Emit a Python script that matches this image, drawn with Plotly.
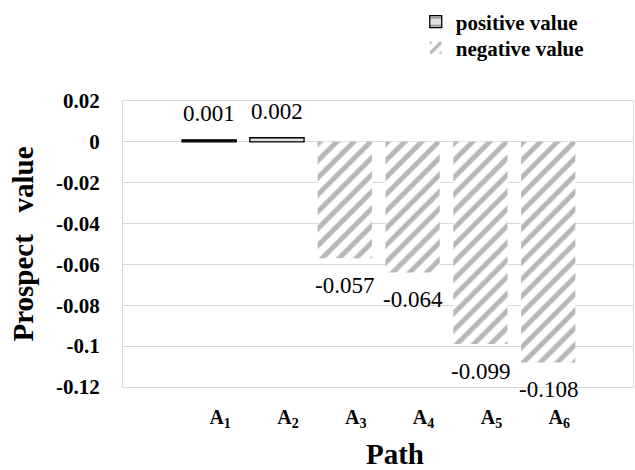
import plotly.graph_objects as go

# Prospect value of each path
paths = ["A1", "A2", "A3", "A4", "A5", "A6"]
path_labels = ["A<sub>1</sub>", "A<sub>2</sub>", "A<sub>3</sub>",
               "A<sub>4</sub>", "A<sub>5</sub>", "A<sub>6</sub>"]
prospect = [0.001, 0.002, -0.057, -0.064, -0.099, -0.108]

# Positive bars: A1 solid black, A2 outlined with a light fill
positive_fill = {"A1": "black", "A2": "#e0e0e0"}

y_ticks = [0.02, 0, -0.02, -0.04, -0.06, -0.08, -0.1, -0.12]
y_tick_text = ["0.02", "0", "-0.02", "-0.04", "-0.06", "-0.08", "-0.1", "-0.12"]

SERIF = "Times New Roman, Liberation Serif, serif"

pos = [(p, v) for p, v in zip(paths, prospect) if v > 0][::-1]
neg = [(p, v) for p, v in zip(paths, prospect) if v <= 0]

fig = go.Figure()

fig.add_bar(
    name="<b>positive value</b>",
    legend="legend",
    x=[p for p, _ in pos],
    y=[v for _, v in pos],
    width=0.8,
    marker=dict(
        color=[positive_fill[p] for p, _ in pos],
        line=dict(color="black", width=1.3),
        pattern=dict(
            shape=["-" if positive_fill[p] != "black" else "" for p, _ in pos],
            fgcolor="black",
            bgcolor=[positive_fill[p] for p, _ in pos],
            size=12,
            solidity=0.15,
        ),
    ),
)

fig.add_bar(
    name="<b>negative value</b>",
    legend="legend2",
    x=[p for p, _ in neg],
    y=[v for _, v in neg],
    width=0.8,
    marker=dict(
        color="white",
        line=dict(width=0),
        pattern=dict(shape="/", fgcolor="#6f6f6f", bgcolor="white",
                     size=12, solidity=0.42),
    ),
)

# Value labels just beyond the end of each bar
for p, v in zip(paths, prospect):
    fig.add_annotation(
        x=p, y=v, text=f"{v:.3f}", showarrow=False,
        yshift=26 if v > 0 else -27, yanchor="middle",
        font=dict(family=SERIF, size=23, color="black"),
    )

# Horizontal axis title
fig.add_annotation(
    xref="paper", yref="paper", x=0.533, y=-0.235,
    text="<b>Path</b>", showarrow=False, yanchor="middle",
    font=dict(family=SERIF, size=29, color="black"),
)

legend_style = dict(
    xanchor="left", yanchor="middle",
    font=dict(family=SERIF, size=21, color="black"),
    bgcolor="rgba(0,0,0,0)", itemwidth=30,
)

fig.update_layout(
    width=635, height=470,
    margin=dict(l=123, r=2, t=101, b=83),
    paper_bgcolor="white", plot_bgcolor="white",
    barmode="relative",
    showlegend=True,
    legend=dict(x=0.574, y=1.276, **legend_style),
    legend2=dict(x=0.574, y=1.185, **legend_style),
    font=dict(family=SERIF, color="black"),
)

fig.update_xaxes(
    type="category", categoryorder="array", categoryarray=paths,
    tickvals=paths, ticktext=[f"<b>{t}</b>" for t in path_labels],
    range=[-1.27, 6.25],
    showgrid=False, zeroline=False, ticks="",
    showline=True, linecolor="#d9d9d9", linewidth=1, mirror=True,
    tickfont=dict(family=SERIF, size=20, color="black"),
    ticklabelstandoff=12, ticklabelshift=11,
)

fig.update_yaxes(
    range=[-0.12, 0.02],
    tickvals=y_ticks, ticktext=[f"<b>{t}</b>" for t in y_tick_text],
    showgrid=True, gridcolor="#d9d9d9", gridwidth=1,
    zeroline=False, ticks="",
    showline=True, linecolor="#d9d9d9", linewidth=1, mirror=True,
    tickfont=dict(family=SERIF, size=21, color="black"),
    ticklabelstandoff=18,
    title=dict(text="<b>Prospect\u00a0\u00a0 value</b>", standoff=13,
               font=dict(family=SERIF, size=29, color="black")),
)

fig.write_html("out.html")
